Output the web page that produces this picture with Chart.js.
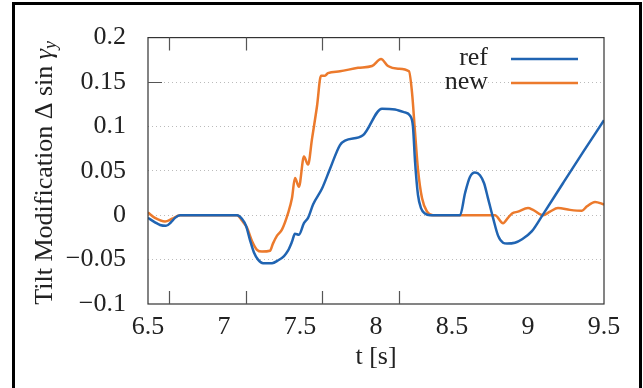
<!DOCTYPE html>
<html>
<head>
<meta charset="utf-8">
<script src="https://cdn.jsdelivr.net/npm/chart.js@4.4.0/dist/chart.umd.min.js"></script>
<style>
    html, body { margin: 0; padding: 0; background: #fff; }
    #wrap { position: relative; width: 643px; height: 388px; overflow: hidden; }
    #cadre { position: absolute; left: 12px; top: 2px; width: 624px; height: 400px; border: 3px solid #000; pointer-events: none; }
</style>
</head>
<body>
<div id="wrap">
    <canvas id="graphique_tilt" width="643" height="388"></canvas>
    <div id="cadre"></div>
</div>
<script>
// courbe "ref"
const ref_t = [6.5, 6.546, 6.579, 6.618, 6.651, 6.678, 6.711, 7.086, 7.118, 7.145, 7.171, 7.197, 7.224, 7.257, 7.316,
    7.355, 7.395, 7.421, 7.447, 7.467, 7.493, 7.526, 7.553, 7.586, 7.645, 7.697, 7.763, 7.796, 7.914, 8.039,
    8.125, 8.184, 8.224, 8.243, 8.257, 8.276, 8.296, 8.322, 8.355, 8.553, 8.586, 8.618, 8.651, 8.684, 8.711,
    8.737, 8.770, 8.803, 8.836, 8.862, 8.914, 8.961, 9.026, 9.099, 9.230, 9.362, 9.5];
const ref_val = [-0.003, -0.008, -0.011, -0.012, -0.008, -0.003, 0, 0, -0.004, -0.012, -0.028, -0.042, -0.050, -0.054, -0.054,
    -0.051, -0.046, -0.040, -0.030, -0.021, -0.022, -0.009, -0.003, 0.012, 0.030, 0.052, 0.079, 0.084, 0.090, 0.120,
    0.119, 0.116, 0.112, 0.100, 0.060, 0.023, 0.008, 0.002, 0, 0, 0.025, 0.043, 0.048, 0.045, 0.036,
    0.019, -0.003, -0.023, -0.031, -0.032, -0.031, -0.027, -0.018, 0.001, 0.036, 0.071, 0.107];

// courbe "new"
const new_t = [6.5, 6.546, 6.612, 6.658, 6.711, 7.086, 7.118, 7.151, 7.184, 7.217, 7.250, 7.303, 7.322, 7.349, 7.382,
    7.421, 7.447, 7.467, 7.493, 7.526, 7.553, 7.579, 7.612, 7.638, 7.664, 7.684, 7.763, 7.882, 7.974, 8.033,
    8.079, 8.145, 8.217, 8.237, 8.257, 8.276, 8.303, 8.336, 8.375, 8.783, 8.836, 8.868, 8.895, 8.934, 9.000,
    9.033, 9.099, 9.145, 9.197, 9.276, 9.355, 9.388, 9.441, 9.5];
const new_val = [0.003, -0.003, -0.007, -0.004, 0, 0, -0.006, -0.014, -0.029, -0.039, -0.041, -0.040, -0.032, -0.023, -0.016,
    0.002, 0.019, 0.042, 0.032, 0.066, 0.057, 0.086, 0.123, 0.157, 0.157, 0.160, 0.162, 0.166, 0.168, 0.176,
    0.168, 0.165, 0.162, 0.138, 0.093, 0.052, 0.019, 0.004, 0, 0, -0.009, -0.003, 0.002, 0.004, 0.008,
    0.006, 0, 0.004, 0.008, 0.006, 0.005, 0.010, 0.015, 0.012];

const series_noms = ['ref', 'new'];
const x_ticks = [6.5, 7, 7.5, 8, 8.5, 9, 9.5];
const y_ticks = [-0.1, -0.05, 0, 0.05, 0.1, 0.15, 0.2];
// petites graduations decalees du cadre (en unites des axes)
const x_marques = [6.64, 7.145, 7.645, 8.15];
const y_marques = [0.15];

const police = "'Liberation Serif', 'DejaVu Serif', serif";

function fmt(v) {
    const r = Math.round(v * 100) / 100;
    return String(r).replace('-', '\u2212');
}

const pluginDecor = {
    id: 'decor',
    afterDraw(chart) {
        const ctx = chart.ctx;
        const a = chart.chartArea;
        const sx = chart.scales.x, sy = chart.scales.y;
        ctx.save();
        // cadre du graphique
        ctx.strokeStyle = '#333';
        ctx.lineWidth = 1.2;
        ctx.strokeRect(a.left, a.top, a.right - a.left, a.bottom - a.top);
        // graduations
        ctx.strokeStyle = '#555';
        ctx.beginPath();
        x_marques.forEach(v => {
            const px = Math.round(sx.getPixelForValue(v)) + 0.5;
            ctx.moveTo(px, a.top); ctx.lineTo(px, a.top + 13);
            ctx.moveTo(px, a.bottom); ctx.lineTo(px, a.bottom - 13);
        });
        y_marques.forEach(v => {
            const py = Math.round(sy.getPixelForValue(v)) + 0.5;
            ctx.moveTo(a.left, py); ctx.lineTo(a.left + 14, py);
        });
        ctx.stroke();

        // legende
        ctx.font = '26px ' + police;
        ctx.textAlign = 'right';
        ctx.textBaseline = 'middle';
        chart.data.datasets.forEach((ds, i) => {
            const y = 58 + i * 24;
            ctx.fillStyle = '#222';
            ctx.fillText(ds.label, 488, y);
            ctx.strokeStyle = ds.borderColor;
            ctx.lineWidth = 2.5;
            ctx.beginPath();
            ctx.moveTo(511, y + 1); ctx.lineTo(578, y + 1);
            ctx.stroke();
        });

        // titre axe y avec indice
        const t1 = 'Tilt Modification \u0394 sin ';
        ctx.translate(45, (a.top + a.bottom) / 2 + 2);
        ctx.rotate(-Math.PI / 2);
        ctx.textAlign = 'left';
        ctx.fillStyle = '#222';
        ctx.font = '26px ' + police;
        const w1 = ctx.measureText(t1).width;
        ctx.font = 'italic 26px ' + police;
        const wg = ctx.measureText('\u03b3').width;
        ctx.font = 'italic 18px ' + police;
        const wy = ctx.measureText('y').width;
        let x0 = -(w1 + wg + wy) / 2;
        ctx.font = '26px ' + police;
        ctx.fillText(t1, x0, 0);
        ctx.font = 'italic 26px ' + police;
        ctx.fillText('\u03b3', x0 + w1, 0);
        ctx.font = 'italic 18px ' + police;
        ctx.fillText('y', x0 + w1 + wg, 6);
        ctx.restore();
    }
};

let graphique = new Chart(document.getElementById('graphique_tilt').getContext('2d'), {
    type: 'line',
    data: {
        datasets: [{
            label: series_noms[0],
            borderColor: '#2064b2',
            data: ref_t.map((t, i) => ({x: t, y: ref_val[i]})),
            fill: false,
        }, {
            label: series_noms[1],
            borderColor: '#ec7a2c',
            data: new_t.map((t, i) => ({x: t, y: new_val[i]})),
            fill: false,
        }]
    },
    options: {
        responsive: false,
        animation: false,
        devicePixelRatio: 1,
        layout: { padding: { left: 0, top: 34, right: 39, bottom: 0 } },
        elements: {
            line: { borderWidth: 2.5, cubicInterpolationMode: 'monotone' },
            point: { radius: 0 }
        },
        plugins: {
            legend: { display: false },
            tooltip: { enabled: false }
        },
        scales: {
            x: {
                type: 'linear',
                min: 6.5,
                max: 9.5,
                afterBuildTicks: (s) => { s.ticks = x_ticks.map(v => ({value: v})); },
                afterFit: (s) => { s.height = 84; },
                grid: { display: false, drawTicks: false },
                border: { display: false },
                ticks: {
                    color: '#222',
                    padding: 8,
                    maxRotation: 0,
                    font: { family: police, size: 26 },
                    callback: (v) => fmt(v)
                },
                title: {
                    display: true,
                    text: 't [s]',
                    color: '#222',
                    font: { family: police, size: 26 },
                    padding: { top: 15, bottom: 15 }
                }
            },
            y: {
                type: 'linear',
                min: -0.1,
                max: 0.2,
                afterBuildTicks: (s) => { s.ticks = y_ticks.map(v => ({value: v})); },
                afterFit: (s) => { s.width = 148; },
                grid: {
                    drawTicks: false,
                    lineWidth: 1,
                    color: (c) => (c.tick && (c.tick.value > 0.19 || c.tick.value < -0.09)) ? 'rgba(0,0,0,0)' : '#bbb'
                },
                border: { display: false, dash: [1, 3] },
                ticks: {
                    color: '#222',
                    padding: 22,
                    font: { family: police, size: 26 },
                    callback: (v) => fmt(v)
                }
            }
        }
    },
    plugins: [pluginDecor]
});
</script>
</body>
</html>
